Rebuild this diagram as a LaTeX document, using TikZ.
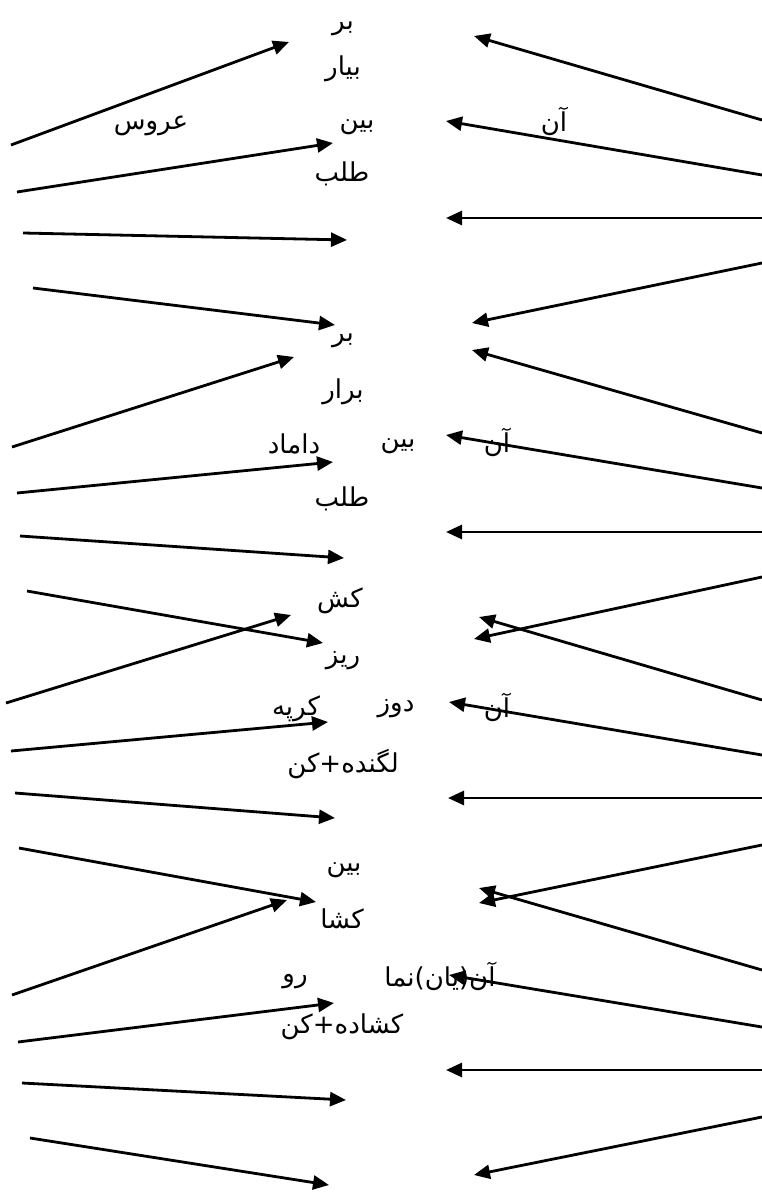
\documentclass[tikz,border=0pt]{standalone}
\usepackage{fontspec}
\newfontfamily\arabicfont[Script=Arabic]{DejaVu Sans}
\TeXXeTstate=1
\usetikzlibrary{arrows.meta}
\newcommand{\rtl}[1]{\beginR #1\endR}
\tikzset{
  arr/.style={line width=2.8pt, -{Triangle[length=16pt,width=14pt]}},
  lbl/.style={font=\arabicfont\fontsize{26}{30}\selectfont, inner sep=0pt, yshift=-4pt}
}
\begin{document}
\begin{tikzpicture}[x=1pt,y=-1pt]
\useasboundingbox (0,0) rectangle (762,1193);
% ---------- labels ----------
% group 1
\node[lbl] (g1a) at (343,25) {\rtl{بر}};
\node[lbl] (g1b) at (343,65) {\rtl{بیار}};
\node[lbl] (g1c) at (151,122) {\rtl{عروس}};
\node[lbl] (g1d) at (357,123) {\rtl{بین}};
\node[lbl] (g1e) at (554,117) {\rtl{آن}};
\node[lbl] (g1f) at (342,170) {\rtl{طلب}};
% group 2
\node[lbl] (g2a) at (343,337) {\rtl{بر}};
\node[lbl] (g2b) at (343,388) {\rtl{برار}};
\node[lbl] (g2c) at (294,440) {\rtl{داماد}};
\node[lbl] (g2d) at (398,442) {\rtl{بین}};
\node[lbl] (g2e) at (497,438) {\rtl{آن}};
\node[lbl] (g2f) at (342,495) {\rtl{طلب}};
% group 3
\node[lbl] (g3a) at (340,597) {\rtl{کش}};
\node[lbl] (g3b) at (343,657) {\rtl{ریز}};
\node[lbl] (g3c) at (296,705) {\rtl{کرپه}};
\node[lbl] (g3d) at (396,705) {\rtl{دوز}};
\node[lbl] (g3e) at (497,703) {\rtl{آن}};
\node[lbl] (g3f) at (343,760) {\rtl{لگنده+کن}};
% group 4
\node[lbl] (g4a) at (344,866) {\rtl{بین}};
\node[lbl] (g4b) at (342,915) {\rtl{کشا}};
\node[lbl] (g4c) at (295,978) {\rtl{رو}};
\node[lbl] (g4d) at (440,972) {\rtl{آن(یان)نما}};
\node[lbl] (g4e) at (342,1023) {\rtl{کشاده+کن}};
% ---------- arrow end points ----------
% group 1
\coordinate (a1s) at (11,145);  \coordinate (a1e) at (289,42);
\coordinate (a2s) at (17,192);  \coordinate (a2e) at (333,143);
\coordinate (a3s) at (23,233);  \coordinate (a3e) at (347,240);
\coordinate (a4s) at (33,288);  \coordinate (a4e) at (335,325);
\coordinate (b1s) at (762,120); \coordinate (b1e) at (474,36);
\coordinate (b2s) at (762,175); \coordinate (b2e) at (446,121);
\coordinate (b3s) at (762,218); \coordinate (b3e) at (446,218);
\coordinate (b4s) at (762,263); \coordinate (b4e) at (472,323);
% group 2
\coordinate (c1s) at (12,447);  \coordinate (c1e) at (294,357);
\coordinate (c2s) at (17,493);  \coordinate (c2e) at (333,462);
\coordinate (c3s) at (20,536);  \coordinate (c3e) at (344,558);
\coordinate (c4s) at (27,591);  \coordinate (c4e) at (323,643);
\coordinate (d1s) at (762,433); \coordinate (d1e) at (472,350);
\coordinate (d2s) at (762,488); \coordinate (d2e) at (446,435);
\coordinate (d3s) at (762,532); \coordinate (d3e) at (446,532);
\coordinate (d4s) at (762,577); \coordinate (d4e) at (474,639);
% group 3
\coordinate (e1s) at (6,703);   \coordinate (e1e) at (291,615);
\coordinate (e2s) at (11,751);  \coordinate (e2e) at (328,722);
\coordinate (e3s) at (15,793);  \coordinate (e3e) at (335,818);
\coordinate (e4s) at (19,848);  \coordinate (e4e) at (316,902);
\coordinate (f1s) at (762,700); \coordinate (f1e) at (479,617);
\coordinate (f2s) at (762,755); \coordinate (f2e) at (449,702);
\coordinate (f3s) at (762,798); \coordinate (f3e) at (448,798);
\coordinate (f4s) at (762,845); \coordinate (f4e) at (479,903);
% group 4
\coordinate (g1s) at (12,995);  \coordinate (g1e) at (287,900);
\coordinate (g2s) at (18,1042); \coordinate (g2e) at (334,1003);
\coordinate (g3s) at (22,1083); \coordinate (g3e) at (346,1100);
\coordinate (g4s) at (30,1138); \coordinate (g4e) at (329,1185);
\coordinate (h1s) at (762,970); \coordinate (h1e) at (479,888);
\coordinate (h2s) at (762,1027);\coordinate (h2e) at (449,975);
\coordinate (h3s) at (762,1070);\coordinate (h3e) at (446,1070);
\coordinate (h4s) at (762,1117);\coordinate (h4e) at (474,1175);
% ---------- arrows ----------
\foreach \p in {a,b,c,d,e,f,g,h}{
  \foreach \i in {1,2,3,4}{
    \draw[arr] (\p\i s) -- (\p\i e);
  }
}
\end{tikzpicture}
\end{document}
